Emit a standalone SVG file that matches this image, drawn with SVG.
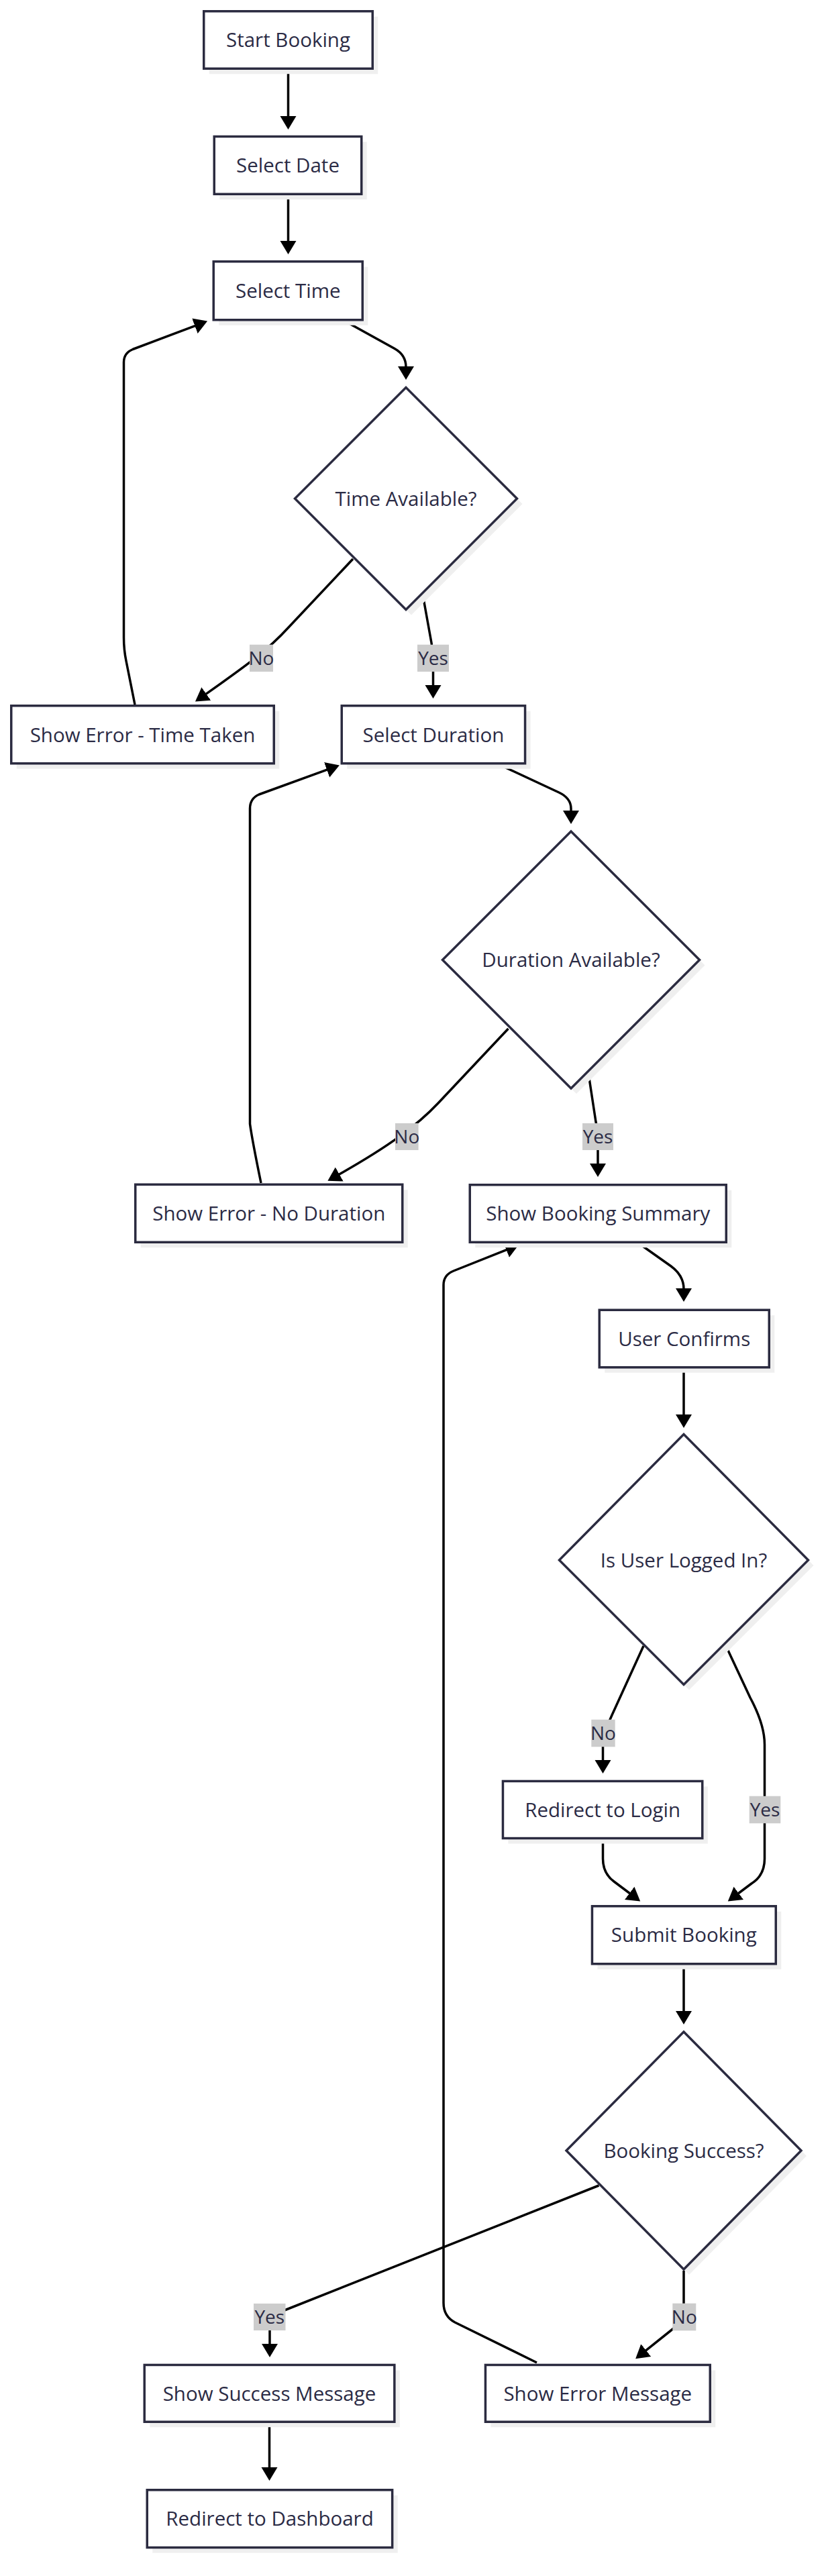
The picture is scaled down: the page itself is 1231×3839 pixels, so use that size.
<svg xmlns="http://www.w3.org/2000/svg" width="1231" height="3839" viewBox="0 0 1231 3839">
<defs>
<style>
.bg{fill:#ffffff}
.sh{fill:#efefef;stroke:none}
.nd{fill:#ffffff;stroke:#2b2b40;stroke-width:3.5}
.tx{font-family:"Open Sans","Noto Sans","Liberation Sans",sans-serif;font-size:28px;fill:#2b2b45;text-anchor:middle}
g[id^="n-"] .tx{font-size:29.5px}
.ed{fill:none;stroke:#000000;stroke-width:3.5;stroke-linejoin:round}
.lb{fill:#cccccc}
</style>
<marker id="arr" markerUnits="userSpaceOnUse" markerWidth="22" markerHeight="26" viewBox="0 0 22 26" refX="1" refY="13" orient="auto">
<path d="M0,1 L20,13 L0,25 z" fill="#000000"/>
</marker>
</defs>
<rect class="bg" x="0" y="0" width="1231" height="3839"/>

<g id="edges">
<path class="ed" marker-end="url(#arr)" d="M429.5,104 V174"/>
<path class="ed" marker-end="url(#arr)" d="M429.5,291 V360"/>
<path class="ed" marker-end="url(#arr)" d="M513,478 L588,519.5 Q605,529 605,547"/>
<path class="ed" marker-end="url(#arr)" d="M526,833 L430,935 C400,968 370,990 306.5,1034.6"/>
<path class="ed" marker-end="url(#arr)" d="M630,886 L643,958 Q645.5,972 645.5,985 V1022"/>
<path class="ed" marker-end="url(#arr)" d="M201,1050 L188,985 Q184.5,968 184.5,950 V540 Q184.5,526 198,520.5 L291.3,485.3"/>
<path class="ed" marker-end="url(#arr)" d="M745,1140 L833,1181 Q851,1189.5 851,1205 V1209"/>
<path class="ed" marker-end="url(#arr)" d="M757.5,1533 L653,1644 C622,1677 580,1708 504.9,1750.5"/>
<path class="ed" marker-end="url(#arr)" d="M877,1600 L888,1672 Q891,1685 891,1692 V1735"/>
<path class="ed" marker-end="url(#arr)" d="M389,1763 Q376,1700 372.5,1675 V1205 Q372.5,1190 386,1184 L488,1146.9"/>
<path class="ed" marker-end="url(#arr)" d="M952,1853 L1000,1887 Q1019,1901 1019,1921"/>
<path class="ed" marker-end="url(#arr)" d="M1019,2039.5 V2109"/>
<path class="ed" marker-end="url(#arr)" d="M959,2453 L912,2556 Q898.5,2586 898.5,2600 V2624"/>
<path class="ed" marker-end="url(#arr)" d="M1081,2451 L1118,2530 Q1139.5,2570 1139.5,2600 V2770 Q1139.5,2795 1120,2807 L1100,2822"/>
<path class="ed" marker-end="url(#arr)" d="M898.5,2741 V2770 Q898.5,2792 915,2804 L939,2822"/>
<path class="ed" marker-end="url(#arr)" d="M1019,2928.5 V2998"/>
<path class="ed" marker-end="url(#arr)" d="M892.5,3257 L424,3443 Q402,3452 402,3465 V3494"/>
<path class="ed" marker-end="url(#arr)" d="M1019,3384 V3445 Q1019,3458 1005,3469 L962,3503.3"/>
<path class="ed" marker-end="url(#arr)" d="M800,3521 L678,3461 Q661,3452 661,3432 V1915 Q661,1900 676,1894 L755.4,1862.3"/>
<path class="ed" marker-end="url(#arr)" d="M401.5,3611 V3678"/>
<g id="edge-labels">
<rect class="lb" x="372" y="960.7" width="35" height="40.3"/><text class="tx" x="389.5" y="991">No</text>
<rect class="lb" x="622" y="960.7" width="47" height="40.3"/><text class="tx" x="645.5" y="991">Yes</text>
<rect class="lb" x="589" y="1674" width="34.6" height="40"/><text class="tx" x="606.3" y="1704">No</text>
<rect class="lb" x="868" y="1674" width="46" height="40"/><text class="tx" x="891" y="1704">Yes</text>
<rect class="lb" x="881.3" y="2562.7" width="35.4" height="40.6"/><text class="tx" x="899" y="2593">No</text>
<rect class="lb" x="1116.7" y="2676.7" width="46.6" height="40.6"/><text class="tx" x="1140" y="2707">Yes</text>
<rect class="lb" x="378" y="3433" width="47.5" height="40"/><text class="tx" x="401.8" y="3463">Yes</text>
<rect class="lb" x="1002.3" y="3432.7" width="35" height="40.6"/><text class="tx" x="1019.8" y="3463">No</text>
</g>
</g>

<g id="n-start"><rect class="sh" x="311.75" y="24.75" width="251.5" height="85.5"/><rect class="nd" x="303.75" y="16.75" width="251.5" height="85.5"/><text class="tx" x="429.5" y="70">Start Booking</text></g>
<g id="n-date"><rect class="sh" x="327.25" y="211.45" width="219.5" height="85.8"/><rect class="nd" x="319.25" y="203.45" width="219.5" height="85.8"/><text class="tx" x="429" y="257">Select Date</text></g>
<g id="n-time"><rect class="sh" x="326.25" y="397.75" width="222" height="87"/><rect class="nd" x="318.25" y="389.75" width="222" height="87"/><text class="tx" x="429.3" y="443.5">Select Time</text></g>
<g id="n-timeavail"><polygon class="sh" points="613,585.5 778.5,751 613,916.5 447.5,751"/><polygon class="nd" points="605,577.5 770.5,743 605,908.5 439.5,743"/><text class="tx" x="605" y="753.5">Time Available?</text></g>
<g id="n-errtime"><rect class="sh" x="24.75" y="1059.75" width="391.5" height="86"/><rect class="nd" x="16.75" y="1051.75" width="391.5" height="86"/><text class="tx" x="212.5" y="1105.5">Show Error - Time Taken</text></g>
<g id="n-seldur"><rect class="sh" x="517.25" y="1059.75" width="273.3" height="86"/><rect class="nd" x="509.25" y="1051.75" width="273.3" height="86"/><text class="tx" x="645.9" y="1105.5">Select Duration</text></g>
<g id="n-duravail"><polygon class="sh" points="859,1247 1050.5,1438.5 859,1630 667.5,1438.5"/><polygon class="nd" points="851,1239 1042.5,1430.5 851,1622 659.5,1430.5"/><text class="tx" x="851" y="1441">Duration Available?</text></g>
<g id="n-errdur"><rect class="sh" x="209.75" y="1773.25" width="398" height="86"/><rect class="nd" x="201.75" y="1765.25" width="398" height="86"/><text class="tx" x="400.8" y="1818.5">Show Error - No Duration</text></g>
<g id="n-summary"><rect class="sh" x="708.25" y="1773.75" width="382" height="85.5"/><rect class="nd" x="700.25" y="1765.75" width="382" height="85.5"/><text class="tx" x="891.3" y="1819">Show Booking Summary</text></g>
<g id="n-confirm"><rect class="sh" x="901.25" y="1960.25" width="253" height="85.5"/><rect class="nd" x="893.25" y="1952.25" width="253" height="85.5"/><text class="tx" x="1019.7" y="2005.5">User Confirms</text></g>
<g id="n-loggedin"><polygon class="sh" points="1027,2145.5 1212.5,2333 1027,2518.5 841.5,2333"/><polygon class="nd" points="1019,2137.5 1204.5,2325 1019,2510.5 833.5,2325"/><text class="tx" x="1019" y="2335.5">Is User Logged In?</text></g>
<g id="n-redirlogin"><rect class="sh" x="757.45" y="2662.45" width="297.3" height="85.1"/><rect class="nd" x="749.45" y="2654.45" width="297.3" height="85.1"/><text class="tx" x="898.1" y="2707.5">Redirect to Login</text></g>
<g id="n-submit"><rect class="sh" x="890.45" y="2848.75" width="273.8" height="86"/><rect class="nd" x="882.45" y="2840.75" width="273.8" height="86"/><text class="tx" x="1019.3" y="2894.2">Submit Booking</text></g>
<g id="n-booksucc"><polygon class="sh" points="1027,3036 1202,3213 1027,3390 852,3213"/><polygon class="nd" points="1019,3028 1194,3205 1019,3382 844,3205"/><text class="tx" x="1019" y="3215.5">Booking Success?</text></g>
<g id="n-successmsg"><rect class="sh" x="223.25" y="3532.45" width="372.6" height="84.8"/><rect class="nd" x="215.25" y="3524.45" width="372.6" height="84.8"/><text class="tx" x="401.5" y="3577.5">Show Success Message</text></g>
<g id="n-errmsg"><rect class="sh" x="731.45" y="3532.45" width="334.8" height="84.8"/><rect class="nd" x="723.45" y="3524.45" width="334.8" height="84.8"/><text class="tx" x="890.8" y="3577.5">Show Error Message</text></g>
<g id="n-dashboard"><rect class="sh" x="227.25" y="3718.75" width="365.4" height="85.8"/><rect class="nd" x="219.25" y="3710.75" width="365.4" height="85.8"/><text class="tx" x="402" y="3764.1">Redirect to Dashboard</text></g>
</svg>
